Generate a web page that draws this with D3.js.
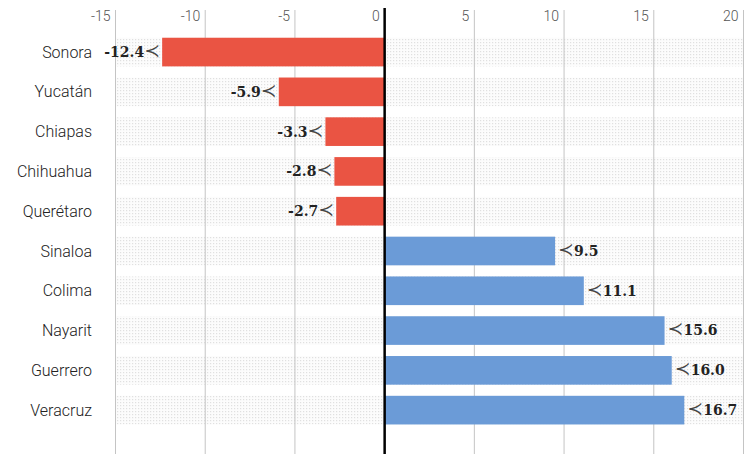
<!DOCTYPE html>
<html>
<head>
<meta charset="utf-8">
<script src="https://d3js.org/d3.v7.min.js"></script>
<style>
  body { margin: 0; background: #fff; }
</style>
</head>
<body>
<div id="chart"></div>
<script>
    // data
    const states = ["Sonora", "Yucatán", "Chiapas", "Chihuahua", "Querétaro",
                    "Sinaloa", "Colima", "Nayarit", "Guerrero", "Veracruz"];
    const values = [-12.4, -5.9, -3.3, -2.8, -2.7, 9.5, 11.1, 15.6, 16.0, 16.7];
    const ticks = [-15, -10, -5, 0, 5, 10, 15, 20];

    const width = 751;
    const height = 454;

    const x = d3.scaleLinear()
        .domain([-15, 20])
        .range([115.5, 743.5]);

    const y = d3.scaleBand()
        .domain(states)
        .range([26.6, 435.6])
        .padding(0.28);

    const svg = d3.select("#chart")
        .append("svg")
        .attr("width", width)
        .attr("height", height);

    // dotted pattern for the row backgrounds
    const pat = svg.append("defs").append("pattern")
        .attr("id", "dots")
        .attr("width", 3)
        .attr("height", 3)
        .attr("patternUnits", "userSpaceOnUse");
    pat.append("rect").attr("width", 3).attr("height", 3).attr("fill", "#fcfcfc");
    pat.append("rect").attr("width", 1.2).attr("height", 1.2).attr("fill", "#e0e0e0");

    svg.selectAll(".band")
        .data(states)
        .enter().append("rect")
        .attr("class", "band")
        .attr("x", x(-15))
        .attr("width", x(20) - x(-15))
        .attr("y", d => y(d))
        .attr("height", y.bandwidth())
        .attr("fill", "url(#dots)");

    // vertical grid lines
    svg.selectAll(".grid")
        .data(ticks.filter(t => t !== 0))
        .enter().append("line")
        .attr("class", "grid")
        .attr("x1", d => x(d))
        .attr("x2", d => x(d))
        .attr("y1", 10)
        .attr("y2", height)
        .attr("stroke", "#c4c4c4")
        .attr("stroke-width", 1);

    // tick labels at the top
    svg.selectAll(".tick")
        .data(ticks)
        .enter().append("text")
        .attr("class", "tick")
        .attr("x", d => x(d) - 5)
        .attr("y", 21)
        .attr("text-anchor", "end")
        .style("font-family", "Roboto")
        .style("font-weight", "300")
        .style("font-size", "14px")
        .style("fill", "#555")
        .text(d => d);

    // bars
    svg.selectAll(".bar")
        .data(states)
        .enter().append("rect")
        .attr("class", "bar")
        .attr("x", (d, i) => values[i] < 0 ? x(values[i]) : x(0))
        .attr("width", (d, i) => Math.abs(x(values[i]) - x(0)))
        .attr("y", d => y(d))
        .attr("height", y.bandwidth())
        .attr("fill", (d, i) => values[i] < 0 ? "#ea5443" : "#6b9bd7");

    // zero line
    svg.append("line")
        .attr("x1", x(0))
        .attr("x2", x(0))
        .attr("y1", 8)
        .attr("y2", height)
        .attr("stroke", "#000")
        .attr("stroke-width", 2.5);

    // state names
    svg.selectAll(".name")
        .data(states)
        .enter().append("text")
        .attr("class", "name")
        .attr("x", 92)
        .attr("y", d => y(d) + y.bandwidth() / 2)
        .attr("dy", "0.35em")
        .attr("text-anchor", "end")
        .style("font-family", "Roboto")
        .style("font-weight", "300")
        .style("font-size", "16px")
        .style("fill", "#222")
        .text(d => d);

    // value labels, number plus a thin curly marker
    const labels = svg.selectAll(".value")
        .data(states)
        .enter().append("text")
        .attr("class", "value")
        .attr("x", (d, i) => values[i] < 0 ? x(values[i]) - 2 : x(values[i]) + 3)
        .attr("y", d => y(d) + y.bandwidth() / 2)
        .attr("dy", "0.35em")
        .attr("text-anchor", (d, i) => values[i] < 0 ? "end" : "start")
        .style("font-family", "'DejaVu Serif', serif")
        .style("font-size", "14px")
        .style("fill", "#222");

    labels.each(function(d, i) {
        const t = d3.select(this);
        const num = values[i].toFixed(1);
        const mark = d => d.append("tspan").text("≺")
            .style("font-weight", "normal").style("fill", "#444")
            .style("font-family", "'DejaVu Sans'").style("font-size", "19px");
        if (values[i] < 0) {
            t.append("tspan").text(num).style("font-weight", "bold");
            mark(t);
        } else {
            mark(t);
            t.append("tspan").text(num).style("font-weight", "bold");
        }
    });
</script>
</body>
</html>
